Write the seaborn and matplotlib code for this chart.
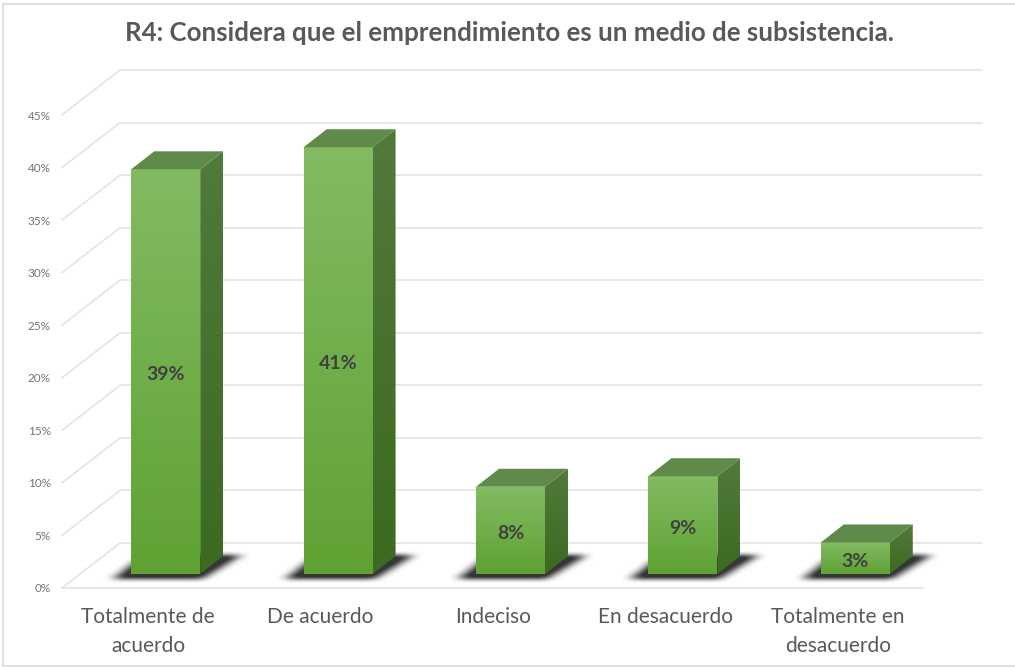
import numpy as np
import pandas as pd
import seaborn as sns
import matplotlib
matplotlib.use("Agg")
import matplotlib.pyplot as plt
from matplotlib.patches import Polygon, Rectangle
from matplotlib.transforms import IdentityTransform

categories = ["Totalmente de\nacuerdo", "De acuerdo", "Indeciso", "En desacuerdo", "Totalmente en\ndesacuerdo"]
values = [38.5, 40.6, 8.3, 9.3, 3.0]
value_labels = ["39%", "41%", "8%", "9%", "3%"]
y_ticks = [0, 5, 10, 15, 20, 25, 30, 35, 40, 45]
title = "R4: Considera que el emprendimiento es un medio de subsistencia."

W, H = 1015, 668
sns.set_theme(style="white")
plt.rcParams["font.family"] = ["Lato", "DejaVu Sans"]
fig = plt.figure(figsize=(W / 100, H / 100), dpi=100, facecolor="white")
ax = fig.add_axes([62 / W, (H - 588) / H, 862 / W, 473 / H])
ax.patch.set_alpha(0)

df = pd.DataFrame({"cat": categories, "val": values})
sns.barplot(data=df, x="cat", y="val", width=0.4, color="#6AA842", ax=ax, zorder=4, saturation=1)
ax.set_xlim(-0.5, 4.5)
ax.set_ylim(0, 45)
ax.set_xlabel("")
ax.set_ylabel("")
sns.despine(ax=ax, left=True, bottom=True)

# scale: pixels per unit
ux, uy = 862 / 5, 473 / 45
wall_dx, wall_dy = 58 / ux, 45 / uy     # full floor depth
front_dx, front_dy = 17.5 / ux, 14 / uy  # bar's front plane
bar_dx, bar_dy = 23 / ux, 18 / uy        # bar's depth

grid = "#E4E4E4"
x0, x1 = -0.5, 4.5
kw = dict(color=grid, lw=1.2, clip_on=False, zorder=1)
for t in y_ticks:
    ax.plot([x0, x0 + wall_dx], [t, t + wall_dy], **kw)
    ax.plot([x0 + wall_dx, x1 + wall_dx], [t + wall_dy, t + wall_dy], **kw)
ax.plot([x0, x1], [0, 0], **kw)

def gradient(poly, top, bottom, ext):
    c0 = np.array(matplotlib.colors.to_rgb(top))
    c1 = np.array(matplotlib.colors.to_rgb(bottom))
    t = np.linspace(0, 1, 256)[:, None, None]
    img = (c0[None, None, :] * (1 - t) + c1[None, None, :] * t)
    im = ax.imshow(img, extent=ext, aspect="auto", origin="upper", zorder=5, clip_on=True)
    im.set_clip_path(poly)

# soft shadow on the floor: a parallelogram mask on a pixel grid, then blurred
yy, xx = np.mgrid[0:H, 0:W]
mask = np.zeros((H, W))
bars = list(ax.containers[0])
to_px = ax.transData.transform
for bar in bars:
    xa = bar.get_x() + front_dx
    xb = xa + bar.get_width()
    (pxa, py0) = to_px((xa, front_dy))
    (pxb, _) = to_px((xb, front_dy))
    py0 = H - py0
    front_y, back_y = py0 + 4, py0 - 19
    frac = (front_y - yy) / (front_y - back_y)
    left = pxa - 18 + frac * 30
    right = pxb + 2 + frac * 38
    mask[(frac >= 0) & (frac <= 1) & (xx >= left) & (xx <= right)] = 1

blur = mask
for _ in range(2):
    blur = np.apply_along_axis(lambda r: np.convolve(r, np.ones(13) / 13, mode="same"), 1, blur)
for _ in range(2):
    blur = np.apply_along_axis(lambda c: np.convolve(c, np.ones(5) / 5, mode="same"), 0, blur)

rgba = np.zeros((H, W, 4))
rgba[..., :3] = 0.17
rgba[..., 3] = np.clip(blur * 1.15, 0, 1) * 0.95
sim = ax.imshow(rgba, extent=(0, W, 0, H), origin="upper", aspect="auto", zorder=2)
sim.set_transform(IdentityTransform())
sim.set_clip_on(False)

for bar in bars:
    bar.set_x(bar.get_x() + front_dx)
    bar.set_y(front_dy)
    xa, w, v = bar.get_x(), bar.get_width(), bar.get_height()
    xb = xa + w
    yb, yt = front_dy, front_dy + v
    side_pts = [(xb, yb), (xb + bar_dx, yb + bar_dy), (xb + bar_dx, yt + bar_dy), (xb, yt)]
    side = Polygon(side_pts, closed=True, fc="none", ec="none", zorder=5)
    ax.add_patch(side)
    gradient(side, "#527A3C", "#3C6A20", (xb, xb + bar_dx, yb, yt + bar_dy))
    top_pts = [(xa, yt), (xb, yt), (xb + bar_dx, yt + bar_dy), (xa + bar_dx, yt + bar_dy)]
    ax.add_patch(Polygon(top_pts, closed=True, fc="#5F8A4A", ec="none", zorder=6, clip_on=False))
    front = Rectangle((xa, yb), w, v, fc="none", ec="none", zorder=5)
    ax.add_patch(front)
    gradient(front, "#82BB62", "#5FA233", (xa, xb, yb, yt))
    bar.set_visible(False)

ax.set_xlim(-0.5, 4.5)
ax.set_ylim(0, 45)

for bar, lab in zip(bars, value_labels):
    ax.text(bar.get_x() + bar.get_width() / 2, bar.get_y() + bar.get_height() / 2 - 3 / uy, lab,
            ha="center", va="center", fontsize=14, fontweight="bold", color="#404040", zorder=8)

ax.set_yticks(y_ticks)
ax.set_yticklabels([f"{t}%" for t in y_ticks], fontsize=8.5, color="#737373")
ax.tick_params(axis="y", length=0, pad=8)
ax.tick_params(axis="x", length=0, pad=14)
ax.set_xticks(range(len(categories)))
ax.set_xticklabels(categories, fontsize=15, color="#595959", linespacing=1.55)

fig.text(509 / W, 1 - 33 / H, title, ha="center", va="center", fontsize=18.6, fontweight="bold", color="#595959")
frame = dict(color="#D9D9D9", lw=1.2, transform=IdentityTransform())
for xs, ys in [([3, 3], [2, H - 4]), ([3, W], [H - 4, H - 4]), ([3, W], [2, 2])]:
    fig.add_artist(plt.Line2D(xs, ys, **frame))

fig.savefig("out.png", dpi=100)
